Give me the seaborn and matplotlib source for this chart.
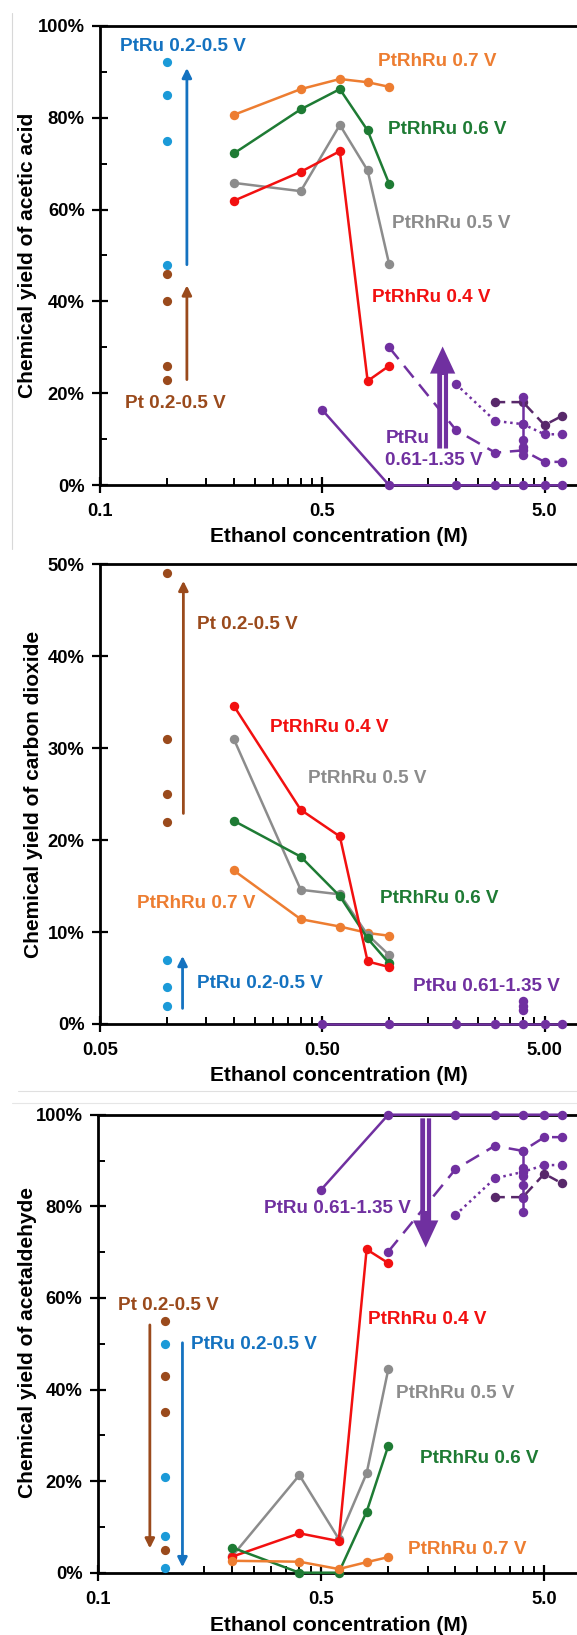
import numpy as np
import matplotlib
matplotlib.use("Agg")
import matplotlib.pyplot as plt
import seaborn as sns
from matplotlib.lines import Line2D
from matplotlib.ticker import FixedLocator, NullFormatter

sns.set_theme(style="white")
plt.rcParams["font.family"] = ["Liberation Sans", "DejaVu Sans"]
plt.rcParams["font.weight"] = "bold"

# ------------------------------------------------------------------ data
CONC_RHRU = [0.2, 0.4, 0.6, 0.8, 1.0]
CONC_LOW = 0.1
HI_SOLID_X = [0.5, 1, 2, 3, 4, 5, 6]
HI_DASH_X = [1, 2, 3, 4, 5, 6]
HI_DOT_X = [2, 3, 4, 5, 6]
HI_DASH2_X = [3, 4, 5, 6]

# acetic acid (%)
AA_PT = [46, 40, 26, 23]
AA_PTRU_LOW = [92, 85, 75, 48]
AA_RHRU_04 = [61.9, 68.2, 72.7, 22.7, 26.0]
AA_RHRU_05 = [65.8, 64.0, 78.4, 68.5, 48.1]
AA_RHRU_06 = [72.2, 81.8, 86.2, 77.2, 65.6]
AA_RHRU_07 = [80.6, 86.2, 88.4, 87.7, 86.7]
AA_HI_SOLID = [16.4, 0, 0, 0, 0, 0, 0]
AA_HI_DASH = [30.0, 12.0, 7.1, 7.6, 5.1, 5.1]
AA_HI_DOT = [22.0, 14.0, 13.3, 11.1, 11.1]
AA_HI_DASH2 = [18.1, 18.1, 13.1, 15.1]
AA_HI_VERT = [19.3, 13.3, 9.9, 8.4, 6.6]

# carbon dioxide (%)
CO2_PT = [49, 31, 25, 22]
CO2_PTRU_LOW = [7, 4, 2]
CO2_RHRU_04 = [34.6, 23.3, 20.4, 6.8, 6.2]
CO2_RHRU_05 = [31.0, 14.6, 14.1, 9.7, 7.5]
CO2_RHRU_06 = [22.1, 18.2, 13.9, 9.3, 6.6]
CO2_RHRU_07 = [16.7, 11.4, 10.6, 9.9, 9.6]
CO2_HI_SOLID = [0, 0, 0, 0, 0, 0, 0]
CO2_HI_VERT = [1.5, 2.0, 2.5]

# acetaldehyde (%)
AD_PT = [55, 43, 35, 5]
AD_PTRU_LOW = [50, 21, 8, 1]
AD_RHRU_04 = [3.5, 8.6, 6.9, 70.6, 67.6]
AD_RHRU_05 = [3.6, 21.3, 7.4, 21.7, 44.4]
AD_RHRU_06 = [5.5, 0.0, 0.0, 13.3, 27.7]
AD_RHRU_07 = [2.6, 2.4, 0.8, 2.3, 3.4]
AD_HI_SOLID = [83.6, 100, 100, 100, 100, 100, 100]
AD_HI_DASH = [70.1, 88.1, 93.2, 92.1, 95.1, 95.1]
AD_HI_DOT = [78.1, 86.1, 87.5, 89.0, 89.0]
AD_HI_DASH2 = [82.0, 82.0, 87.1, 85.0]
AD_HI_VERT = [92.1, 88.3, 86.6, 84.7, 81.8, 78.8]

XTICKS = [0.05, 0.5, 5]
XLAB_1 = ["0.1", "0.5", "5.0"]
XLAB_2 = ["0.05", "0.50", "5.00"]
YT_100 = [0, 20, 40, 60, 80, 100]
YL_100 = ["0%", "20%", "40%", "60%", "80%", "100%"]
YT_50 = [0, 10, 20, 30, 40, 50]
YL_50 = ["0%", "10%", "20%", "30%", "40%", "50%"]

# ------------------------------------------------------------------ style
C_OR = "#ED7D31"
C_GR = "#1E7B34"
C_GY = "#8C8C8C"
C_RD = "#F21010"
C_PU = "#7030A0"
C_PU2 = "#58286A"
C_BLD = "#1B9AD8"
C_BLT = "#1472C0"
C_BR = "#9A4A1C"

W, H = 577, 1635
fig = plt.figure(figsize=(W / 100, H / 100), dpi=100)
fig.patch.set_facecolor("white")


def add_axes(left_px, top_px, bottom_px):
    return fig.add_axes([left_px / W, 1 - bottom_px / H,
                         1 - left_px / W, (bottom_px - top_px) / H])


def line(ax, x, y, c, ls="-", ms=6.8, lw=1.8):
    sns.lineplot(x=x, y=y, ax=ax, color=c, linestyle=ls, marker="o",
                 markersize=ms, markeredgewidth=0, markeredgecolor=c,
                 linewidth=lw, estimator=None, sort=False, legend=False,
                 clip_on=False, zorder=3)


def dots(ax, y, c):
    sns.scatterplot(x=[CONC_LOW] * len(y), y=y, ax=ax, color=c, s=44,
                    linewidth=0, legend=False, clip_on=False, zorder=3)


def arrow(ax, x, y0, y1, c, lw=2.0, ms=14):
    ax.annotate("", xy=(x, y1), xytext=(x, y0),
                arrowprops=dict(arrowstyle="-|>", color=c, lw=lw,
                                mutation_scale=ms, shrinkA=0, shrinkB=0),
                zorder=4)


def big_arrow(ax, x, y0, y1):
    ax.annotate("", xy=(x, y1), xytext=(x, y0),
                arrowprops=dict(arrowstyle="simple,head_length=0.75,head_width=0.7,tail_width=0.3",
                                color=C_PU, lw=0, mutation_scale=26,
                                shrinkA=0, shrinkB=0), zorder=4)
    frac = 0.72
    ax.plot([x, x], [y0, y0 + (y1 - y0) * frac], color="white", lw=1.3,
            zorder=5, solid_capstyle="butt")


def label(ax, x, y, s, c, ha="center", fs=13.6):
    ax.text(x, y, s, color=c, ha=ha, va="center", fontsize=fs,
            fontweight="bold", zorder=6)


def style_axes(ax, ymax, yt, yl, xl, yminor):
    ax.set_xscale("log")
    ax.set_xlim(0.05, 7.0)
    ax.set_ylim(0, ymax)
    ax.set_facecolor("white")
    for s in ["left", "bottom", "top"]:
        ax.spines[s].set_visible(True)
        ax.spines[s].set_color("black")
        ax.spines[s].set_linewidth(2.0)
    ax.spines["right"].set_visible(False)
    ax.set_xticks(XTICKS)
    ax.set_xticklabels(xl)
    minors = [m * d for d in (0.05, 0.5, 5) for m in range(2, 10) if m * d < 7.0]
    ax.xaxis.set_minor_locator(FixedLocator(minors))
    ax.xaxis.set_minor_formatter(NullFormatter())
    ax.set_yticks(yt)
    ax.set_yticklabels(yl)
    if yminor:
        ax.yaxis.set_minor_locator(FixedLocator(yminor))
        ax.yaxis.set_minor_formatter(NullFormatter())
    ax.tick_params(which="major", direction="inout", length=12, width=1.6,
                   color="black", labelsize=13.2, pad=5,
                   left=True, bottom=True, top=False, right=False)
    ax.tick_params(which="minor", direction="in", length=5, width=1.4,
                   color="black", left=True, bottom=True, top=False, right=False)
    ax.tick_params(axis="x", which="major", pad=7)
    for t in ax.get_xticklabels() + ax.get_yticklabels():
        t.set_fontweight("bold")
        t.set_color("black")
    ax.set_xlabel("")
    ax.set_ylabel("")
    ax.grid(False)


def ftext(xpx, ypx, s, rot=0, fs=15):
    fig.text(xpx / W, 1 - ypx / H, s, rotation=rot, ha="center", va="center",
             fontsize=fs, fontweight="bold", color="black")


# faint frame lines from the source composition
fig.add_artist(Line2D([12 / W, 12 / W], [1 - 13 / H, 1 - 549 / H], color="#d8d8d8", lw=0.8))
fig.add_artist(Line2D([18 / W, 1], [1 - 1091 / H, 1 - 1091 / H], color="#e0e0e0", lw=0.8))
fig.add_artist(Line2D([12 / W, 1], [1 - 1103 / H, 1 - 1103 / H], color="#e6e6e6", lw=0.8))

# ------------------------------------------------------------------ panel 1
ax1 = add_axes(100, 25.7, 485.3)
style_axes(ax1, 100, YT_100, YL_100, XLAB_1, [10, 30, 50, 70, 90])
dots(ax1, AA_PTRU_LOW, C_BLD)
dots(ax1, AA_PT, C_BR)
line(ax1, CONC_RHRU, AA_RHRU_07, C_OR)
line(ax1, CONC_RHRU, AA_RHRU_06, C_GR)
line(ax1, CONC_RHRU, AA_RHRU_05, C_GY)
line(ax1, CONC_RHRU, AA_RHRU_04, C_RD)
line(ax1, HI_SOLID_X, AA_HI_SOLID, C_PU)
line(ax1, HI_DASH_X, AA_HI_DASH, C_PU, ls=(0, (6, 3.5)))
line(ax1, HI_DOT_X, AA_HI_DOT, C_PU, ls=(0, (1, 1.5)))
line(ax1, HI_DASH2_X, AA_HI_DASH2, C_PU2, ls=(0, (4, 2.5)))
line(ax1, [4] * len(AA_HI_VERT), AA_HI_VERT, C_PU)
arrow(ax1, 0.123, 48, 90.8, C_BLT)
arrow(ax1, 0.123, 23, 43.5, C_BR)
big_arrow(ax1, 1.74, 8, 30.2)
label(ax1, 0.1176, 95.4, "PtRu 0.2-0.5 V", C_BLT)
label(ax1, 0.1097, 17.8, "Pt 0.2-0.5 V", C_BR)
label(ax1, 1.648, 92.3, "PtRhRu 0.7 V", C_OR)
label(ax1, 1.823, 77.5, "PtRhRu 0.6 V", C_GR)
label(ax1, 1.896, 57.0, "PtRhRu 0.5 V", C_GY)
label(ax1, 1.545, 40.8, "PtRhRu 0.4 V", C_RD)
label(ax1, 0.961, 10.2, "PtRu", C_PU, ha="left")
label(ax1, 0.961, 5.5, "0.61-1.35 V", C_PU, ha="left")
ftext(28, 255, "Chemical yield of acetic acid", rot=90)
ftext(339, 536.7, "Ethanol concentration (M)")

# ------------------------------------------------------------------ panel 2
ax2 = add_axes(100, 564.3, 1024)
style_axes(ax2, 50, YT_50, YL_50, XLAB_2, None)
dots(ax2, CO2_PT, C_BR)
dots(ax2, CO2_PTRU_LOW, C_BLD)
line(ax2, HI_SOLID_X, CO2_HI_SOLID, C_PU)
line(ax2, [4] * len(CO2_HI_VERT), CO2_HI_VERT, C_PU, lw=3)
line(ax2, CONC_RHRU, CO2_RHRU_07, C_OR)
line(ax2, CONC_RHRU, CO2_RHRU_05, C_GY)
line(ax2, CONC_RHRU, CO2_RHRU_06, C_GR)
line(ax2, CONC_RHRU, CO2_RHRU_04, C_RD)
arrow(ax2, 0.1186, 22.9, 48.2, C_BR)
arrow(ax2, 0.1176, 1.7, 7.4, C_BLT)
label(ax2, 0.1364, 43.4, "Pt 0.2-0.5 V", C_BR, ha="left")
label(ax2, 0.1364, 4.4, "PtRu 0.2-0.5 V", C_BLT, ha="left")
label(ax2, 0.1354, 13.1, "PtRhRu 0.7 V", C_OR)
label(ax2, 0.536, 32.2, "PtRhRu 0.4 V", C_RD)
label(ax2, 0.797, 26.7, "PtRhRu 0.5 V", C_GY)
label(ax2, 1.682, 13.6, "PtRhRu 0.6 V", C_GR)
label(ax2, 2.74, 4.1, "PtRu 0.61-1.35 V", C_PU)
ftext(34, 794, "Chemical yield of carbon dioxide", rot=90)
ftext(339, 1075, "Ethanol concentration (M)")

# ------------------------------------------------------------------ panel 3
ax3 = add_axes(97.7, 1114.7, 1572.7)
style_axes(ax3, 100, YT_100, YL_100, XLAB_1, [10, 30, 50, 70, 90])
dots(ax3, AD_PT, C_BR)
dots(ax3, AD_PTRU_LOW, C_BLD)
line(ax3, CONC_RHRU, AD_RHRU_05, C_GY)
line(ax3, CONC_RHRU, AD_RHRU_04, C_RD)
line(ax3, CONC_RHRU, AD_RHRU_06, C_GR)
line(ax3, CONC_RHRU, AD_RHRU_07, C_OR)
line(ax3, HI_SOLID_X, AD_HI_SOLID, C_PU)
line(ax3, HI_DASH_X, AD_HI_DASH, C_PU, ls=(0, (6, 3.5)))
line(ax3, HI_DOT_X, AD_HI_DOT, C_PU, ls=(0, (1, 1.5)))
line(ax3, HI_DASH2_X, AD_HI_DASH2, C_PU2, ls=(0, (4, 2.5)))
line(ax3, [4] * len(AD_HI_VERT), AD_HI_VERT, C_PU)
arrow(ax3, 0.0856, 54.1, 5.3, C_BR)
arrow(ax3, 0.1198, 50.2, 1.2, C_BLT)
big_arrow(ax3, 1.471, 99.2, 71.0)
label(ax3, 0.1033, 58.3, "Pt 0.2-0.5 V", C_BR)
label(ax3, 0.1314, 49.9, "PtRu 0.2-0.5 V", C_BLT, ha="left")
label(ax3, 1.26, 79.6, "PtRu 0.61-1.35 V", C_PU, ha="right")
label(ax3, 1.496, 55.2, "PtRhRu 0.4 V", C_RD)
label(ax3, 2.003, 39.2, "PtRhRu 0.5 V", C_GY)
label(ax3, 2.558, 25.0, "PtRhRu 0.6 V", C_GR)
label(ax3, 2.268, 5.1, "PtRhRu 0.7 V", C_OR)
ftext(28, 1343, "Chemical yield of acetaldehyde", rot=90)
ftext(339, 1625, "Ethanol concentration (M)")

fig.savefig("out.png", dpi=100, facecolor="white")
